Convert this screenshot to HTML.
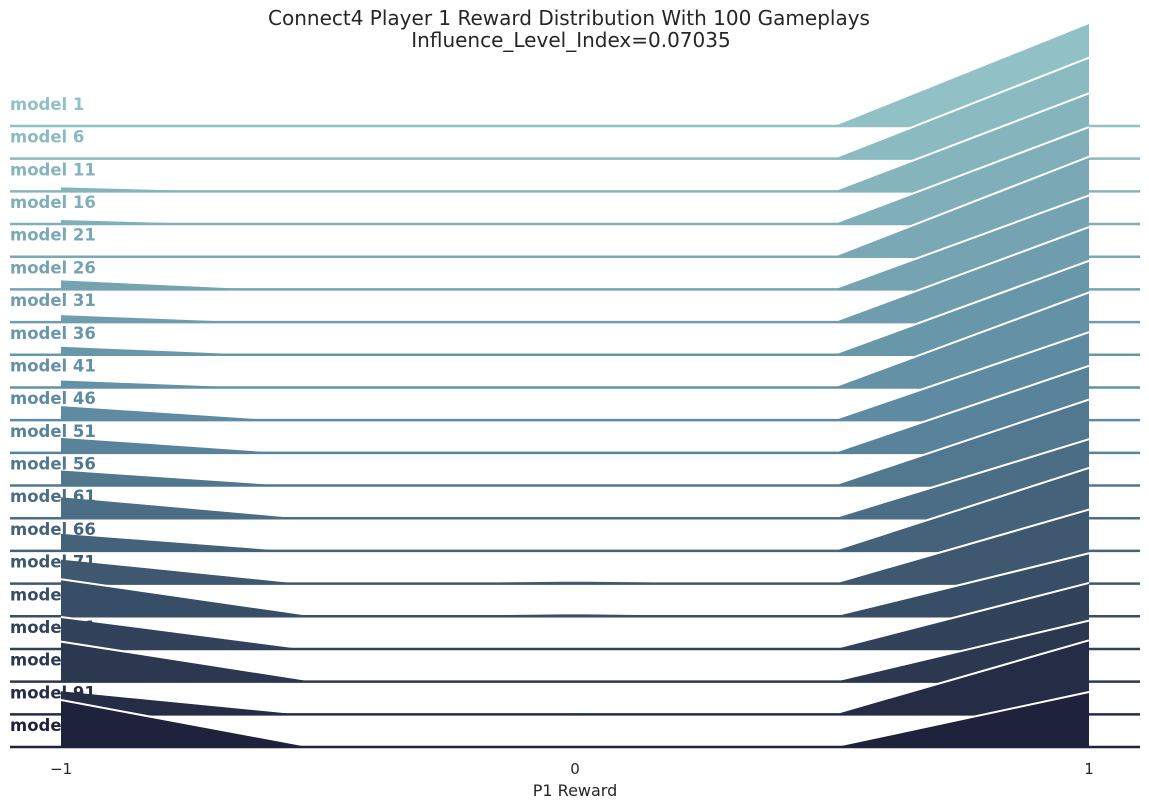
<!DOCTYPE html>
<html><head><meta charset="utf-8"><style>
body{margin:0;background:#fff}
svg{display:block;font-family:"DejaVu Sans","Liberation Sans",sans-serif}
</style></head><body>
<svg id="chart" width="1149" height="809">
<text x="569" y="25" text-anchor="middle" font-size="20" fill="#262626">Connect4 Player 1 Reward Distribution With 100 Gameplays</text>
<text x="571" y="47" text-anchor="middle" font-size="20" fill="#262626">Influence_Level_Index=0.07035</text>
<g id="ridges"></g>
<g id="xaxis"></g>
<text x="575" y="796" text-anchor="middle" font-size="16" fill="#262626">P1 Reward</text>
</svg>
<script>
const models = ["model 1","model 6","model 11","model 16","model 21","model 26","model 31","model 36","model 41","model 46","model 51","model 56","model 61","model 66","model 71","model 76","model 81","model 86","model 91","model 96"];
const densLeft = [0,2,5,5,2,10,8,9,8,15,16,16,22,18,25,37,32,40,24,47];
const leftCut = [-0.55,-0.6,-0.64,-0.64,-0.6,-0.58,-0.6,-0.58,-0.6,-0.56,-0.55,-0.54,-0.52,-0.54,-0.52,-0.5,-0.52,-0.5,-0.52,-0.51];
const densCenter = [0,0,0,0,0,0,0,0,0,0,0,0,1,0,3,3,2,0,2,0];
const densRight = [103,101,98,97,100,94,95,94,95,88,87,86,79,83,74,63,66,61,74,55];
const xTicks = [-1,0,1];
const xTickLabels = ["\u22121","0","1"];

const NS="http://www.w3.org/2000/svg";
const xs = v => 61 + (v+1)*514;
const base0 = 126, step = (747-126)/19;
const stops=[[0x91,0xc0,0xc5],[0x5b,0x88,0xa0],[0x1f,0x22,0x3b]];
function col(i,n){const t=i/(n-1)*2;const k=Math.min(1,Math.floor(t));const f=t-k;const a=stops[k],b=stops[k+1];
return "rgb("+a.map((c,j)=>Math.round(c+(b[j]-c)*f)).join(",")+")";}
const g=document.getElementById("ridges");
models.forEach((m,i)=>{
  const by=base0+i*step, c=col(i,models.length);
  const pts=[[-1,densLeft[i]],[leftCut[i],0],[0,densCenter[i]],[0.5,0],[1,densRight[i]]];
  const d="M"+xs(-1)+","+by+" "+pts.map(p=>"L"+xs(p[0])+","+(by-p[1])).join(" ")+" L"+xs(1)+","+by+"Z";
  const grp=document.createElementNS(NS,"g");
  
  
  const p=document.createElementNS(NS,"path");
  p.setAttribute("d",d);p.setAttribute("fill",c);
  
  
  grp.appendChild(p);
  const o=document.createElementNS(NS,"polyline");
  o.setAttribute("points",pts.map(q=>xs(q[0])+","+(by-q[1])).join(" "));
  o.setAttribute("fill","none");o.setAttribute("stroke","#fff");o.setAttribute("stroke-width","2");
  
  
  grp.appendChild(o);
  const l=document.createElementNS(NS,"line");
  l.setAttribute("x1",10);l.setAttribute("x2",1140);l.setAttribute("y1",by);l.setAttribute("y2",by);
  l.setAttribute("stroke",c);l.setAttribute("stroke-width","2.5");
  
  
  grp.appendChild(l);
  const t=document.createElementNS(NS,"text");
  t.setAttribute("x",10);t.setAttribute("y",by-16);t.setAttribute("font-size","16.5");
  t.setAttribute("font-weight","bold");t.setAttribute("fill",c);t.textContent=m;
  
  
  grp.appendChild(t);
  g.appendChild(grp);
});
const xa=document.getElementById("xaxis");
xTicks.forEach((v,i)=>{
  const t=document.createElementNS(NS,"text");
  t.setAttribute("x",xs(v));t.setAttribute("y",774);t.setAttribute("text-anchor","middle");
  t.setAttribute("font-size","15");t.setAttribute("fill","#262626");t.textContent=xTickLabels[i];
  
  
  xa.appendChild(t);
});
</script>
</body></html>
